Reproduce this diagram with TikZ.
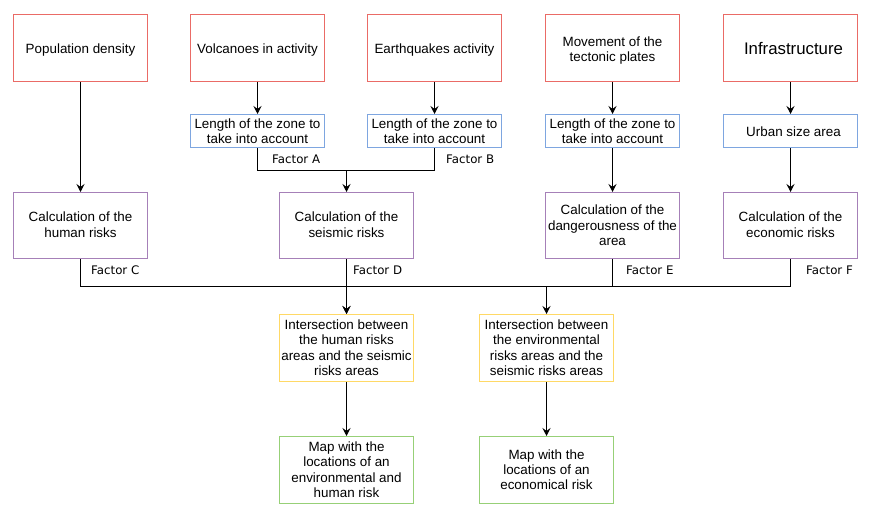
\documentclass[tikz,border=0pt]{standalone}
\usepackage{fontspec}
\setmainfont{Liberation Sans}
\newfontfamily\factorfont{DejaVu Sans}
\usetikzlibrary{arrows.meta}
\definecolor{cred}{HTML}{EA6B66}
\definecolor{cblue}{HTML}{7EA6E0}
\definecolor{cpurple}{HTML}{A680B8}
\definecolor{cyellow}{HTML}{FFD966}
\definecolor{cgreen}{HTML}{97D077}
\newcommand\tx[2][2pt]{\raisebox{-#1}[\height][\depth]{\begin{tabular}{@{}c@{}}#2\end{tabular}}}
\tikzset{
  box/.style={draw, line width=1pt, fill=white, rectangle, minimum width=134pt, inner sep=1pt, align=center, font=\fontsize{13.4}{15.2}\selectfont},
  topbox/.style={box, draw=cred, minimum height=67pt},
  lenbox/.style={box, draw=cblue, minimum height=33pt},
  calcbox/.style={box, draw=cpurple, minimum height=66pt},
  interbox/.style={box, draw=cyellow, minimum height=67pt},
  mapbox/.style={box, draw=cgreen, minimum height=67pt},
  factor/.style={anchor=west, inner sep=0pt, font=\factorfont\fontsize{11.8}{13}\selectfont},
  conn/.style={draw=black, line width=1pt},
  arr/.style={conn, -{Stealth[length=8pt,width=8pt,inset=3pt]}}
}
\begin{document}
\begin{tikzpicture}[x=1pt,y=-1pt]
\useasboundingbox (0,0) rectangle (875,516);
% top row
\node[topbox] (pop) at (80.5,48) {\tx[2.5pt]{Population density}};
\node[topbox] (vol) at (257.5,48) {\tx[2.5pt]{Volcanoes in activity}};
\node[topbox] (eq) at (434.5,48) {\tx[2.5pt]{Earthquakes activity}};
\node[topbox] (mov) at (612.5,48) {\tx[3pt]{Movement of the\\tectonic plates}};
\node[topbox, font=\fontsize{16.8}{19}\selectfont] (inf) at (790.5,48) {\tx[2.5pt]{\hspace{6pt}Infrastructure}};
% length row
\node[lenbox] (len1) at (257.5,131) {\tx{Length of the zone to\\take into account}};
\node[lenbox] (len2) at (434.5,131) {\tx{Length of the zone to\\take into account}};
\node[lenbox] (len3) at (612.5,131) {\tx{Length of the zone to\\take into account}};
\node[lenbox] (urb) at (790.5,131) {\tx{\hspace{6pt}Urban size area}};
% calc row
\node[calcbox] (calH) at (80.5,225.5) {\tx[1pt]{Calculation of the\\human risks}};
\node[calcbox] (calS) at (346.5,225.5) {\tx[1pt]{Calculation of the\\seismic risks}};
\node[calcbox] (calD) at (612.5,225.5) {\tx[1.5pt]{Calculation of the\\dangerousness of the\\area}};
\node[calcbox] (calE) at (790.5,225.5) {\tx[1pt]{Calculation of the\\economic risks}};
% intersection row
\node[interbox] (int1) at (346.5,348) {\tx[1.5pt]{Intersection between\\the human risks\\areas and the seismic\\risks areas}};
\node[interbox] (int2) at (546.5,348) {\tx[1.5pt]{Intersection between\\the environmental\\risks areas and the\\seismic risks areas}};
% map row
\node[mapbox] (map1) at (346.5,470) {\tx[1.5pt]{Map with the\\locations of an\\environmental and\\human risk}};
\node[mapbox] (map2) at (546.5,470) {\tx[1.5pt]{Map with the\\locations of an\\economical risk}};
% factor labels
\node[factor] (fA) at (272,159) {Factor A};
\node[factor] (fB) at (446,159) {Factor B};
\node[factor] (fC) at (91,270) {Factor C};
\node[factor] (fD) at (353,270) {Factor D};
\node[factor] (fE) at (626,270) {Factor E};
\node[factor] (fF) at (806,270) {Factor F};
% junction coordinates
\coordinate (busA) at (346.5,170.5);
\coordinate (busL) at (346.5,286.5);
\coordinate (busR) at (546.5,286.5);
% connectors
\draw[arr] (pop) -- (calH);
\draw[arr] (vol) -- (len1);
\draw[arr] (eq) -- (len2);
\draw[arr] (mov) -- (len3);
\draw[arr] (inf) -- (urb);
\draw[arr] (len1.south) |- (busA) -- (calS.north);
\draw[conn] (len2.south) |- (busA);
\draw[arr] (len3) -- (calD);
\draw[arr] (urb) -- (calE);
\draw[arr] (calH.south) |- (busL) -- (int1.north);
\draw[arr] (calS) -- (int1);
\draw[conn] (busL) -- (busR);
\draw[conn] (calD.south) |- (busR);
\draw[arr] (calE.south) |- (busR) -- (int2.north);
\draw[arr] (int1) -- (map1);
\draw[arr] (int2) -- (map2);
\end{tikzpicture}
\end{document}
